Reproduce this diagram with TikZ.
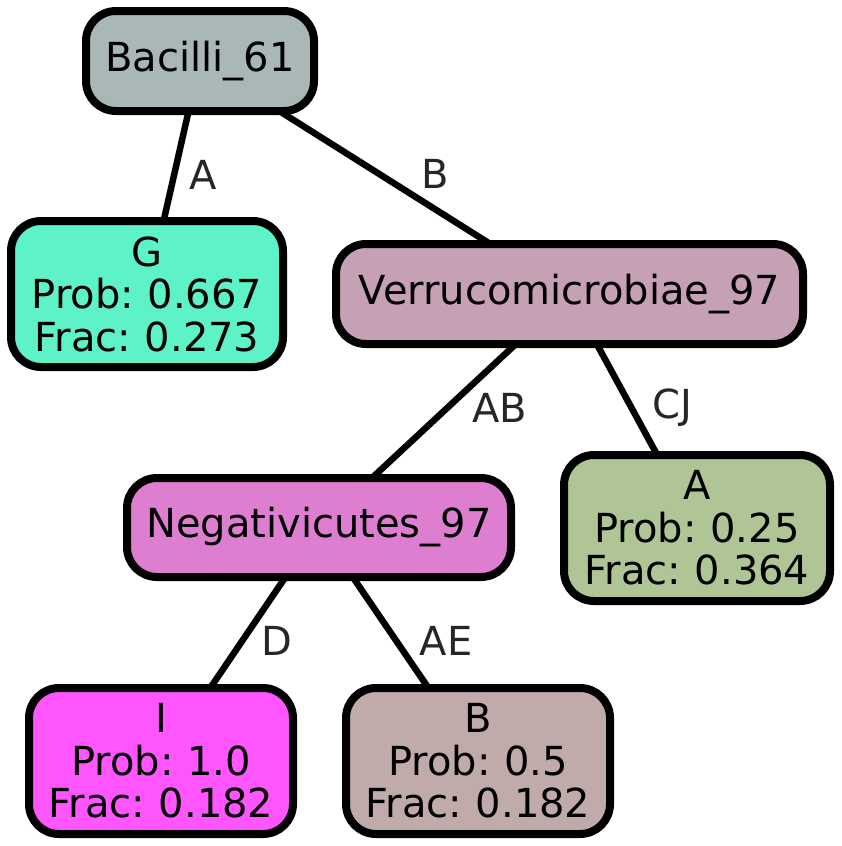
\documentclass[tikz,border=0pt]{standalone}
\usepackage{fontspec}
\setmainfont[WordSpace=0.75]{DejaVu Sans}
\usetikzlibrary{backgrounds}
\definecolor{cBac}{RGB}{169,183,182}
\definecolor{cG}{RGB}{94,242,200}
\definecolor{cVer}{RGB}{198,160,180}
\definecolor{cNeg}{RGB}{221,126,208}
\definecolor{cA}{RGB}{175,197,149}
\definecolor{cI}{RGB}{255,85,255}
\definecolor{cB}{RGB}{192,170,170}
\definecolor{labgray}{RGB}{38,38,38}
\begin{document}
\begin{tikzpicture}[x=1pt,y=-1pt,
  box/.style={draw=black, line width=8pt, rounded corners=30pt, inner sep=0pt, outer sep=0pt, align=center, font=\fontsize{40}{42.5}\selectfont},
  edge/.style={draw=black, line width=6.5pt},
  lab/.style={text=labgray, inner sep=0pt, font=\fontsize{40}{42.5}\selectfont}]
\useasboundingbox (0,0) rectangle (842,846);
\node[box, fill=cBac, minimum width=228pt, minimum height=100pt] (bac) at (200,61) {Bacilli\_61};
\node[box, fill=cG, minimum width=272pt, minimum height=146pt] (g) at (147,294) {G\\Prob: 0.667\\Frac: 0.273};
\node[box, fill=cVer, minimum width=467pt, minimum height=100pt] (ver) at (569.5,294) {Verrucomicrobiae\_97};
\node[box, fill=cNeg, minimum width=384pt, minimum height=99pt] (neg) at (319,527.5) {Negativicutes\_97};
\node[box, fill=cA, minimum width=266pt, minimum height=146pt] (a) at (697,528) {A\\Prob: 0.25\\Frac: 0.364};
\node[box, fill=cI, minimum width=264pt, minimum height=146pt] (i) at (161,761) {I\\Prob: 1.0\\Frac: 0.182};
\node[box, fill=cB, minimum width=264pt, minimum height=146pt] (b) at (478,761) {B\\Prob: 0.5\\Frac: 0.182};
\begin{scope}[on background layer]
\draw[edge] (bac) -- (g);
\draw[edge] (bac) -- (ver);
\draw[edge] (ver) -- (neg);
\draw[edge] (ver) -- (a);
\draw[edge] (neg) -- (i);
\draw[edge] (neg) -- (b);
\end{scope}
\node[lab] (lA) at (203,175) {A};
\node[lab] (lB) at (435,174) {B};
\node[lab] (lAB) at (500,408) {AB};
\node[lab] (lCJ) at (672,408) {CJ};
\node[lab] (lD) at (277,641) {D};
\node[lab] (lAE) at (446,641) {AE};
\end{tikzpicture}
\end{document}
